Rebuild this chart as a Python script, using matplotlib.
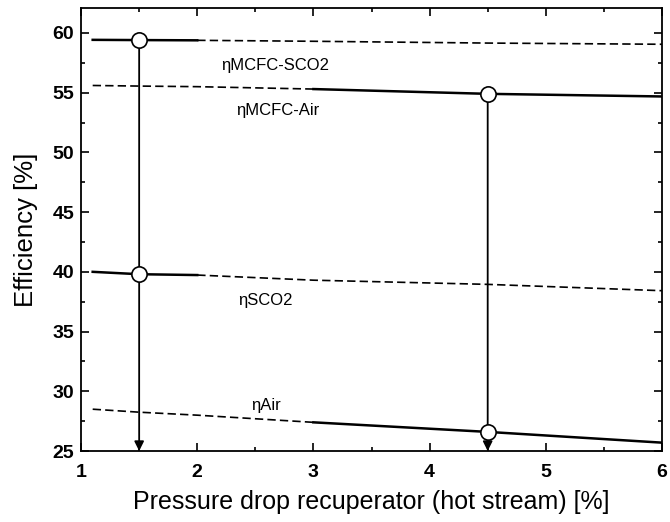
import numpy as np
import matplotlib.pyplot as plt
from matplotlib.ticker import MultipleLocator

# Pressure drop in the recuperator (hot stream) [%]
x = np.array([1.1, 1.5, 2.0, 3.0, 4.5, 6.0])

# Efficiencies [%]
eta_mcfc_sco2 = np.array([59.42, 59.4, 59.38, 59.3, 59.15, 59.05])
eta_mcfc_air = np.array([55.6, 55.55, 55.5, 55.3, 54.9, 54.68])
eta_sco2 = np.array([40.0, 39.8, 39.73, 39.3, 38.95, 38.42])
eta_air = np.array([28.5, 28.25, 28.0, 27.4, 26.6, 25.7])

# design points
x_sco2_design = 1.5
x_air_design = 4.5

labels = ["ηMCFC-SCO2", "ηMCFC-Air", "ηSCO2", "ηAir"]
label_pos = [(2.67, 57.3), (2.69, 53.5), (2.59, 37.6), (2.59, 28.8)]

fig = plt.figure(figsize=(6.7, 5.22), dpi=100)
ax = fig.add_axes([0.121, 0.136, 0.867, 0.849])

dash = (0, (5, 2.5))

def plot_split(y, x_split, solid_first):
    left = x <= x_split
    right = x >= x_split
    if solid_first:
        ax.plot(x[left], y[left], color="black", lw=1.8)
        ax.plot(x[right], y[right], color="black", lw=1.2, linestyle=dash)
    else:
        ax.plot(x[left], y[left], color="black", lw=1.2, linestyle=dash)
        ax.plot(x[right], y[right], color="black", lw=1.8)

plot_split(eta_mcfc_sco2, 2.0, True)
plot_split(eta_sco2, 2.0, True)
plot_split(eta_mcfc_air, 3.0, False)
plot_split(eta_air, 3.0, False)

# vertical arrows from the design points down to the x axis
y_top_sco2 = np.interp(x_sco2_design, x, eta_mcfc_sco2)
y_top_air = np.interp(x_air_design, x, eta_mcfc_air)
for xd, yt in [(x_sco2_design, y_top_sco2), (x_air_design, y_top_air)]:
    ax.annotate("", xy=(xd, 25), xytext=(xd, yt),
                arrowprops=dict(arrowstyle="-|>", color="black", lw=1.3,
                                mutation_scale=14, shrinkA=0, shrinkB=0))

# circle markers at the design points
pts_x = [x_sco2_design, x_sco2_design, x_air_design, x_air_design]
pts_y = [y_top_sco2, np.interp(x_sco2_design, x, eta_sco2),
         y_top_air, np.interp(x_air_design, x, eta_air)]
ax.plot(pts_x, pts_y, "o", ms=11, mfc="white", mec="black", mew=1.2, zorder=5)

for txt, (tx, ty) in zip(labels, label_pos):
    ax.text(tx, ty, txt, ha="center", va="center", fontsize=12,
            family="Liberation Sans")

ax.set_xlim(1, 6)
ax.set_ylim(25, 62.1)
ax.xaxis.set_major_locator(MultipleLocator(1))
ax.xaxis.set_minor_locator(MultipleLocator(0.5))
ax.yaxis.set_major_locator(MultipleLocator(5))
ax.yaxis.set_minor_locator(MultipleLocator(2.5))
ax.tick_params(which="both", direction="in", top=True, right=True,
               labelsize=14, width=1.2)
ax.tick_params(axis="x", which="major", length=6, pad=9.5)
ax.tick_params(axis="y", which="major", length=6, pad=5)
ax.tick_params(which="minor", length=3)
for lab in ax.get_xticklabels() + ax.get_yticklabels():
    lab.set_family("Liberation Sans")
    lab.set_fontweight("bold")
for sp in ax.spines.values():
    sp.set_linewidth(1.3)

ax.set_xlabel("Pressure drop recuperator (hot stream) [%]", fontsize=18,
              family="Liberation Sans", labelpad=6)
ax.set_ylabel("Efficiency [%]", fontsize=18.5, family="Liberation Sans",
              labelpad=10)

fig.savefig("out.png", dpi=100)
